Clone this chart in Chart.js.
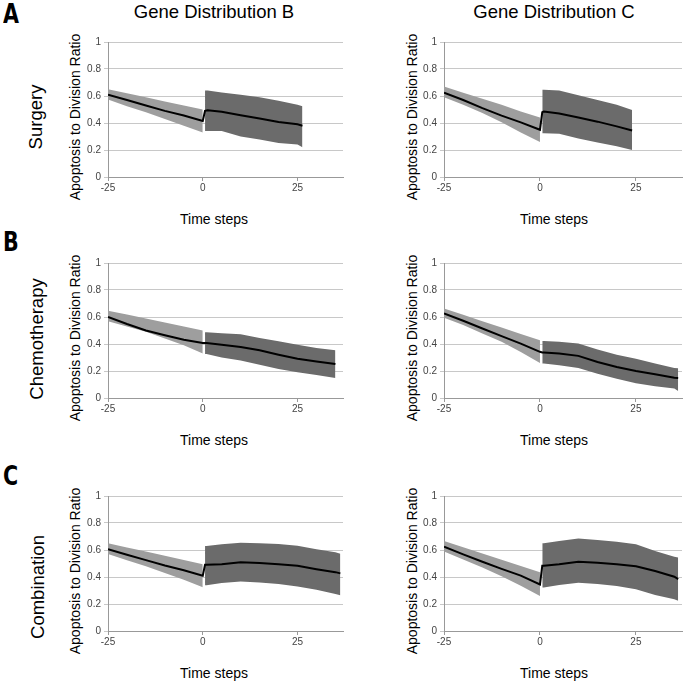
<!DOCTYPE html>
<html>
<head>
<meta charset="utf-8">
<script src="https://cdn.jsdelivr.net/npm/chart.js@4/dist/chart.umd.min.js"></script>
<style>
  html, body { margin:0; padding:0; background:#fff; }
  body { width:686px; height:684px; position:relative; overflow:hidden; font-family:"Liberation Sans", Arial, sans-serif; }
  canvas { position:absolute; }
  .col { position:absolute; font-size:18.5px; color:#000; transform:translateX(-50%); white-space:nowrap; line-height:1; }
  .row { position:absolute; font-size:18.5px; color:#000; white-space:nowrap; line-height:1; transform:translate(-50%,-50%) rotate(-90deg); }
  .ytl { position:absolute; font-size:14px; color:#000; white-space:nowrap; line-height:1; transform:translate(-50%,-50%) rotate(-90deg); }
  .xtl { position:absolute; font-size:14px; color:#000; white-space:nowrap; line-height:1; transform:translate(-50%,-50%); }
  .lab { position:absolute; font-family:"Liberation Sans Narrow","DejaVu Sans Condensed",sans-serif; font-weight:bold; font-size:27px; line-height:1; transform:scaleX(0.85); transform-origin:left top; }
</style>
</head>
<body>
<div class="lab" style="left:3px;top:0px;">A</div>
<div class="lab" style="left:3px;top:228px;">B</div>
<div class="lab" style="left:3px;top:462px;">C</div>
<div class="col" style="left:214px;top:3px;">Gene Distribution B</div>
<div class="col" style="left:554px;top:3px;">Gene Distribution C</div>
<div class="row" style="left:36px;top:117px;">Surgery</div>
<div class="row" style="left:37px;top:339px;">Chemotherapy</div>
<div class="row" style="left:38px;top:587px;">Combination</div>

<div id="titles"></div>

<canvas id="c0"></canvas>
<canvas id="c1"></canvas>
<canvas id="c2"></canvas>
<canvas id="c3"></canvas>
<canvas id="c4"></canvas>
<canvas id="c5"></canvas>

<script>
// ---------- data ----------
const xTickValues = [-25, 0, 25];
const yTickValues = [0, 0.2, 0.4, 0.6, 0.8, 1];
const yTitle = 'Apoptosis to Division Ratio';
const xTitle = 'Time steps';

const preX = [-25, -20, -15, -10, -5, 0];

// Surgery, Gene Distribution B
const surgB_preMean  = [0.61, 0.57, 0.53, 0.49, 0.455, 0.415];
const surgB_preUp    = [0.65, 0.62, 0.59, 0.56, 0.53, 0.50];
const surgB_preLo    = [0.575, 0.525, 0.48, 0.43, 0.38, 0.33];
const surgB_postX    = [0.6, 1.3, 5, 10, 15, 20, 25, 26.3];
const surgB_postMean = [0.49, 0.495, 0.483, 0.458, 0.433, 0.408, 0.39, 0.38];
const surgB_postUp   = [0.64, 0.64, 0.626, 0.61, 0.59, 0.565, 0.535, 0.525];
const surgB_postLo   = [0.34, 0.34, 0.34, 0.30, 0.277, 0.252, 0.24, 0.22];

// Surgery, Gene Distribution C
const surgC_preMean  = [0.625, 0.57, 0.51, 0.455, 0.405, 0.35];
const surgC_preUp    = [0.67, 0.625, 0.58, 0.535, 0.485, 0.44];
const surgC_preLo    = [0.59, 0.535, 0.475, 0.405, 0.33, 0.26];
const surgC_postX    = [0.6, 1, 5, 10, 15, 20, 24];
const surgC_postMean = [0.48, 0.485, 0.47, 0.44, 0.41, 0.375, 0.345];
const surgC_postUp   = [0.647, 0.647, 0.64, 0.605, 0.57, 0.535, 0.497];
const surgC_postLo   = [0.325, 0.325, 0.32, 0.285, 0.256, 0.227, 0.2];

// Chemotherapy, Gene Distribution B
const chemB_preMean  = [0.60, 0.548, 0.50, 0.465, 0.432, 0.407];
const chemB_preUp    = [0.647, 0.618, 0.588, 0.559, 0.53, 0.50];
const chemB_preLo    = [0.568, 0.53, 0.49, 0.44, 0.39, 0.33];
const chemB_postX    = [0.6, 1, 5, 10, 15, 20, 25, 30, 35];
const chemB_postMean = [0.407, 0.407, 0.395, 0.378, 0.353, 0.32, 0.29, 0.27, 0.252];
const chemB_postUp   = [0.487, 0.487, 0.48, 0.472, 0.444, 0.42, 0.395, 0.37, 0.353];
const chemB_postLo   = [0.326, 0.326, 0.30, 0.277, 0.247, 0.215, 0.19, 0.17, 0.148];

// Chemotherapy, Gene Distribution C
const chemC_preMean  = [0.626, 0.572, 0.515, 0.458, 0.403, 0.342];
const chemC_preUp    = [0.663, 0.616, 0.569, 0.522, 0.475, 0.428];
const chemC_preLo    = [0.594, 0.54, 0.478, 0.416, 0.34, 0.26];
const chemC_postX    = [0.6, 1, 5, 10, 15, 20, 25, 30, 35, 36];
const chemC_postMean = [0.337, 0.337, 0.33, 0.312, 0.267, 0.23, 0.2, 0.176, 0.15, 0.148];
const chemC_postUp   = [0.423, 0.423, 0.416, 0.403, 0.36, 0.32, 0.29, 0.255, 0.223, 0.22];
const chemC_postLo   = [0.255, 0.255, 0.243, 0.223, 0.18, 0.143, 0.11, 0.087, 0.07, 0.052];

// Combination, Gene Distribution B
const combB_preMean  = [0.605, 0.565, 0.525, 0.485, 0.45, 0.41];
const combB_preUp    = [0.65, 0.619, 0.588, 0.557, 0.526, 0.495];
const combB_preLo    = [0.57, 0.525, 0.48, 0.43, 0.38, 0.325];
const combB_postX    = [0.6, 1, 5, 10, 15, 20, 25, 30, 35, 36.3];
const combB_postMean = [0.49, 0.49, 0.495, 0.51, 0.503, 0.495, 0.483, 0.458, 0.436, 0.427];
const combB_postUp   = [0.63, 0.63, 0.642, 0.654, 0.65, 0.645, 0.632, 0.605, 0.583, 0.573];
const combB_postLo   = [0.338, 0.338, 0.355, 0.367, 0.36, 0.348, 0.33, 0.306, 0.275, 0.265];

// Combination, Gene Distribution C
const combC_preMean  = [0.625, 0.568, 0.513, 0.46, 0.41, 0.345];
const combC_preUp    = [0.667, 0.621, 0.574, 0.528, 0.481, 0.435];
const combC_preLo    = [0.588, 0.53, 0.47, 0.405, 0.335, 0.26];
const combC_postX    = [0.6, 1, 5, 10, 15, 20, 25, 30, 35, 36];
const combC_postMean = [0.484, 0.484, 0.494, 0.513, 0.506, 0.494, 0.48, 0.444, 0.402, 0.385];
const combC_postUp   = [0.65, 0.65, 0.667, 0.686, 0.674, 0.662, 0.642, 0.593, 0.55, 0.545];
const combC_postLo   = [0.323, 0.323, 0.34, 0.358, 0.348, 0.333, 0.309, 0.267, 0.235, 0.225];

const panels = [
  { preMean: surgB_preMean, preUp: surgB_preUp, preLo: surgB_preLo, postX: surgB_postX, postMean: surgB_postMean, postUp: surgB_postUp, postLo: surgB_postLo },
  { preMean: surgC_preMean, preUp: surgC_preUp, preLo: surgC_preLo, postX: surgC_postX, postMean: surgC_postMean, postUp: surgC_postUp, postLo: surgC_postLo },
  { preMean: chemB_preMean, preUp: chemB_preUp, preLo: chemB_preLo, postX: chemB_postX, postMean: chemB_postMean, postUp: chemB_postUp, postLo: chemB_postLo },
  { preMean: chemC_preMean, preUp: chemC_preUp, preLo: chemC_preLo, postX: chemC_postX, postMean: chemC_postMean, postUp: chemC_postUp, postLo: chemC_postLo },
  { preMean: combB_preMean, preUp: combB_preUp, preLo: combB_preLo, postX: combB_postX, postMean: combB_postMean, postUp: combB_postUp, postLo: combB_postLo },
  { preMean: combC_preMean, preUp: combC_preUp, preLo: combC_preLo, postX: combC_postX, postMean: combC_postMean, postUp: combC_postUp, postLo: combC_postLo }
];

// ---------- layout ----------
const colLeft   = [58, 394];
const colWidth  = [290, 292];
const yAxisW    = [50, 50];
const plotW     = [235, 238];
const rowPlotTop = [42, 263, 496];
const plotH = 135;
const topPad = 10;
const xAxisH = 30;
const yTitleX = [75, 412];
const yTitleDy = 7;
const xTitleX = [214, 554];
const xTitleDy = 42;

const lightBand = '#9e9e9e';
const darkBand  = '#6b6b6b';

const pts = (xs, ys) => xs.map((x, i) => ({ x: x, y: ys[i] }));
const titlesDiv = document.getElementById('titles');

panels.forEach((p, i) => {
  const col = i % 2, row = Math.floor(i / 2);
  const cv = document.getElementById('c' + i);
  const W = colWidth[col], H = topPad + plotH + xAxisH;
  cv.width = W; cv.height = H;
  cv.style.left = colLeft[col] + 'px';
  cv.style.top = (rowPlotTop[row] - topPad) + 'px';
  cv.style.width = W + 'px'; cv.style.height = H + 'px';

  const yt = document.createElement('div');
  yt.className = 'ytl'; yt.textContent = yTitle;
  yt.style.left = yTitleX[col] + 'px';
  yt.style.top = (rowPlotTop[row] + plotH / 2 + yTitleDy) + 'px';
  titlesDiv.appendChild(yt);
  const xt = document.createElement('div');
  xt.className = 'xtl'; xt.textContent = xTitle;
  xt.style.left = xTitleX[col] + 'px';
  xt.style.top = (rowPlotTop[row] + plotH + xTitleDy) + 'px';
  titlesDiv.appendChild(xt);

  const meanPts = pts(preX, p.preMean).concat(pts(p.postX, p.postMean));

  new Chart(cv.getContext('2d'), {
    type: 'line',
    data: {
      datasets: [
        { data: meanPts, borderColor: '#000', borderWidth: 2, pointRadius: 0, fill: false, tension: 0 },
        { data: pts(preX, p.preUp), borderWidth: 0, borderColor: 'rgba(0,0,0,0)', pointRadius: 0, fill: '+1', backgroundColor: lightBand },
        { data: pts(preX, p.preLo), borderWidth: 0, borderColor: 'rgba(0,0,0,0)', pointRadius: 0, fill: false },
        { data: pts(p.postX, p.postUp), borderWidth: 0, borderColor: 'rgba(0,0,0,0)', pointRadius: 0, fill: '+1', backgroundColor: darkBand },
        { data: pts(p.postX, p.postLo), borderWidth: 0, borderColor: 'rgba(0,0,0,0)', pointRadius: 0, fill: false }
      ]
    },
    options: {
      responsive: false,
      animation: false,
      devicePixelRatio: 1,
      events: [],
      layout: { padding: { top: topPad, right: W - yAxisW[col] - plotW[col], left: 0, bottom: 0 } },
      plugins: { legend: { display: false }, tooltip: { enabled: false } },
      scales: {
        x: {
          type: 'linear',
          min: -25, max: 37,
          afterBuildTicks: ax => { ax.ticks = xTickValues.map(v => ({ value: v })); },
          afterFit: ax => { ax.height = xAxisH; },
          grid: { drawOnChartArea: false, drawTicks: true, tickLength: 4, color: '#999' },
          border: { color: '#999', width: 1 },
          ticks: { color: '#444', font: { size: 10, family: 'Liberation Sans' }, padding: 1, maxRotation: 0, callback: v => String(v) }
        },
        y: {
          type: 'linear',
          min: 0, max: 1,
          afterBuildTicks: ax => { ax.ticks = yTickValues.map(v => ({ value: v })); },
          afterFit: ax => { ax.width = yAxisW[col]; },
          grid: { color: '#c8c8c8', drawTicks: true, tickLength: 4 },
          border: { color: '#999', width: 1 },
          ticks: { color: '#444', font: { size: 10, family: 'Liberation Sans' }, padding: 3, callback: v => String(+v.toFixed(1)) }
        }
      }
    }
  });
});
</script>
</body>
</html>
